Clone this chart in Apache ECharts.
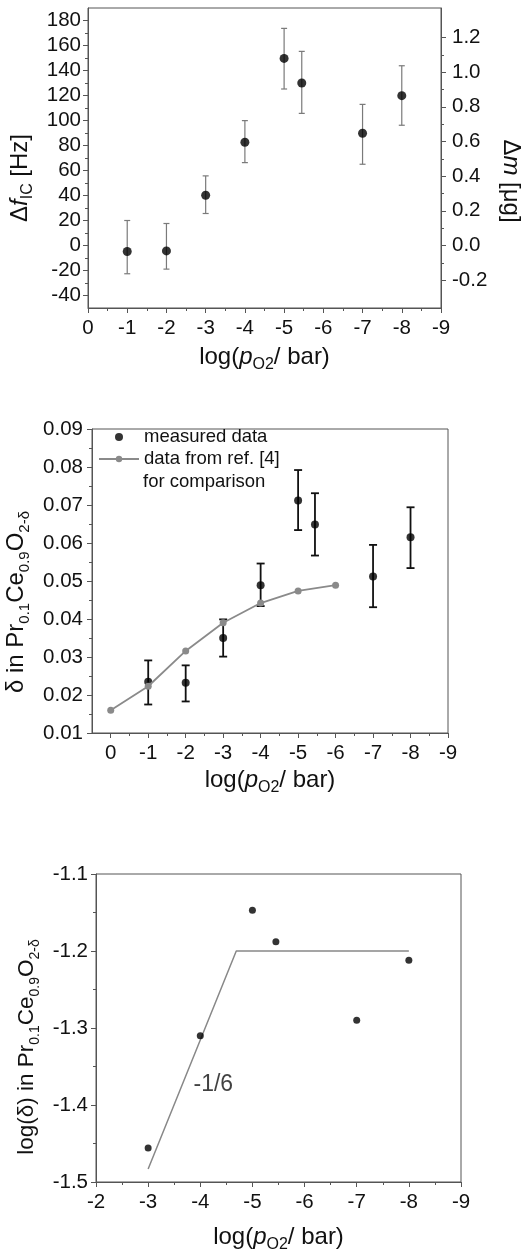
<!DOCTYPE html>
<html><head><meta charset="utf-8">
<script src="https://cdn.jsdelivr.net/npm/echarts@6/dist/echarts.min.js"></script>
<style>html,body{margin:0;padding:0;background:#fff}#c{width:528px;height:1249px}</style>
</head><body><div id="c"></div>
<script>
// ---------- Panel 1: frequency shift / mass change ----------
const p1X = [-1, -2, -3, -4, -5, -5.45, -7, -8];
const p1Freq = [-4.8, -4.3, 40.2, 82.6, 149.7, 130.0, 89.8, 119.9];
const p1ErrLow = [-22.6, -18.9, 25.6, 66.3, 125.2, 105.7, 65.0, 96.2];
const p1ErrHigh = [20.0, 17.6, 55.7, 99.9, 173.7, 155.3, 112.9, 143.8];
const p1FreqTicks = [-40, -20, 0, 20, 40, 60, 80, 100, 120, 140, 160, 180];
const p1MassTicks = [-0.2, 0.0, 0.2, 0.4, 0.6, 0.8, 1.0, 1.2];
const hzPerUg = 138.7;
const p1XTicks = [0, -1, -2, -3, -4, -5, -6, -7, -8, -9];

// ---------- Panel 2: delta vs log pO2 ----------
const p2X = [-1, -2, -3, -4, -5, -5.45, -7, -8];
const p2Delta = [0.0235, 0.0232, 0.0350, 0.0489, 0.0712, 0.0649, 0.0512, 0.0615];
const p2ErrLow = [0.0175, 0.0183, 0.0301, 0.0434, 0.0634, 0.0567, 0.0431, 0.0534];
const p2ErrHigh = [0.0291, 0.0278, 0.0399, 0.0546, 0.0792, 0.0731, 0.0595, 0.0694];
const refX = [0, -1, -2, -3, -4, -5, -6];
const refDelta = [0.0160, 0.0223, 0.0316, 0.0390, 0.0442, 0.0474, 0.0489];
const p2YTicks = [0.01, 0.02, 0.03, 0.04, 0.05, 0.06, 0.07, 0.08, 0.09];
const p2XTicks = [0, -1, -2, -3, -4, -5, -6, -7, -8, -9];

// ---------- Panel 3: log(delta) vs log pO2 ----------
const p3X = [-3, -4, -5, -5.45, -7, -8];
const p3LogDelta = [-1.456, -1.310, -1.147, -1.188, -1.290, -1.212];
const fitX = [-3, -4.69, -8];
const fitY = [-1.483, -1.200, -1.200];
const slopeLabel = { x: -4.25, y: -1.374, text: '-1/6' };
const p3YTicks = [-1.5, -1.4, -1.3, -1.2, -1.1];
const p3XTicks = [-2, -3, -4, -5, -6, -7, -8, -9];

// ---------- helpers ----------
const FF = '"Liberation Sans", Arial, sans-serif';
const AX = '#555';
const TXT = '#111';
const TICK_FS = 20.5;
const mid = arr => arr.slice(1).map((v, i) => +((v + arr[i]) / 2).toFixed(6));

function rich(main, sub, lh) {
  return {
    a: { fontSize: main, fontFamily: FF, color: TXT, lineHeight: lh },
    i: { fontSize: main, fontFamily: FF, color: TXT, fontStyle: 'italic', lineHeight: lh },
    s: { fontSize: sub, fontFamily: FF, color: TXT, lineHeight: sub, verticalAlign: 'bottom' }
  };
}

function mainAxis(o) {
  return Object.assign({
    type: 'value', gridIndex: o.grid, min: o.min, max: o.max, inverse: !!o.inverse,
    position: o.position, splitLine: { show: false },
    axisLine: { show: true, onZero: false, lineStyle: { color: AX, width: 1 } },
    axisTick: { show: true, length: 5, lineStyle: { color: AX }, customValues: o.ticks },
    axisLabel: { show: true, customValues: o.ticks, margin: o.margin, color: TXT, fontSize: TICK_FS, fontFamily: FF,
      formatter: o.fmt },
    minorTick: { show: false }
  }, o.extra || {});
}
function minorAxis(o) {
  return {
    type: 'value', gridIndex: o.grid, min: o.min, max: o.max, inverse: !!o.inverse,
    position: o.position, splitLine: { show: false },
    axisLine: { show: false, onZero: false },
    axisTick: { show: true, length: 3, lineStyle: { color: AX }, customValues: o.ticks },
    axisLabel: { show: false }
  };
}
function errSeries(name, xi, yi, xs, lo, hi, color, width, cap) {
  return {
    type: 'custom', name: name, xAxisIndex: xi, yAxisIndex: yi, z: 2, silent: true,
    data: xs.map((x, k) => [x, lo[k], hi[k]]),
    encode: { x: 0, y: [1, 2] },
    renderItem: function (params, api) {
      const x = api.value(0);
      const t = api.coord([x, api.value(2)]);
      const b = api.coord([x, api.value(1)]);
      const st = { stroke: color, lineWidth: width };
      return { type: 'group', children: [
        { type: 'line', shape: { x1: t[0], y1: t[1], x2: b[0], y2: b[1] }, style: st },
        { type: 'line', shape: { x1: t[0] - cap, y1: t[1], x2: t[0] + cap, y2: t[1] }, style: st },
        { type: 'line', shape: { x1: b[0] - cap, y1: b[1], x2: b[0] + cap, y2: b[1] }, style: st }
      ] };
    }
  };
}

const g1 = { left: 88, top: 8, width: 353, height: 300 };
const g2 = { left: 92, top: 429, width: 356, height: 304 };
const g3 = { left: 96, top: 874, width: 365, height: 308 };
const gridStyle = { show: true, borderColor: AX, borderWidth: 1, backgroundColor: 'transparent',
  containLabel: false, outerBoundsMode: 'none' };

const fmt1 = v => String(Math.round(v));
const fmtMass = v => (v / hzPerUg).toFixed(1);
const fmt2 = v => v.toFixed(2);
const fmt3 = v => v.toFixed(1);
const fmtX = v => String(Math.round(v));

const xTitle = (main, sub, lh) => ({
  name: '{a|log(}{i|p}{s|O2}{a|/ bar)}', nameLocation: 'middle',
  nameTextStyle: { rich: rich(main, sub, lh) }
});

const option = {
  animation: false,
  backgroundColor: '#fff',
  grid: [Object.assign({}, g1, gridStyle), Object.assign({}, g2, gridStyle), Object.assign({}, g3, gridStyle)],
  legend: {
    data: ['measured data', 'data from ref. [4]'],
    left: 98, top: 427, orient: 'vertical', itemGap: 2, itemWidth: 40, itemHeight: 8, padding: 0,
    textStyle: { fontSize: 18.5, fontFamily: FF, color: TXT, lineHeight: 20 },
    selectedMode: false
  },
  graphic: [
    { type: 'text', left: 143, top: 472, style: { text: 'for comparison', fontSize: 18.5, fontFamily: FF, fill: TXT } }
  ],
  xAxis: [
    mainAxis({ grid: 0, min: -9, max: 0, inverse: true, position: 'bottom', ticks: p1XTicks, margin: 10, fmt: fmtX,
      extra: Object.assign(xTitle(24, 16, 32), { nameGap: 33 }) }),
    minorAxis({ grid: 0, min: -9, max: 0, inverse: true, position: 'bottom', ticks: mid(p1XTicks) }),
    mainAxis({ grid: 1, min: -9, max: 0.5, inverse: true, position: 'bottom', ticks: p2XTicks, margin: 10, fmt: fmtX,
      extra: Object.assign(xTitle(24, 16, 32), { nameGap: 31 }) }),
    minorAxis({ grid: 1, min: -9, max: 0.5, inverse: true, position: 'bottom', ticks: mid(p2XTicks) }),
    mainAxis({ grid: 2, min: -9, max: -2, inverse: true, position: 'bottom', ticks: p3XTicks, margin: 10, fmt: fmtX,
      extra: Object.assign(xTitle(24, 16, 32), { nameGap: 39 }) }),
    minorAxis({ grid: 2, min: -9, max: -2, inverse: true, position: 'bottom', ticks: mid(p3XTicks) })
  ],
  yAxis: [
    mainAxis({ grid: 0, min: -50, max: 190, position: 'left', ticks: p1FreqTicks, margin: 7, fmt: fmt1,
      extra: { name: '{a|Δ}{i|f}{s|IC}{a| [Hz]}', nameLocation: 'middle', nameGap: 40,
        nameTextStyle: { rich: rich(24, 16, 32), padding: [0, 40, 0, 0] } } }),
    minorAxis({ grid: 0, min: -50, max: 190, position: 'left', ticks: mid(p1FreqTicks) }),
    mainAxis({ grid: 0, min: -50, max: 190, position: 'right', ticks: p1MassTicks.map(m => +(m * hzPerUg).toFixed(4)), margin: 11, fmt: fmtMass,
      extra: { name: '{a|Δ}{i|m}{a| [μg]}', nameLocation: 'middle', nameGap: 54, nameRotate: -90,
        nameTextStyle: { rich: rich(24, 16, 30), padding: [0, 0, 0, 46] } } }),
    minorAxis({ grid: 0, min: -50, max: 190, position: 'right', ticks: mid(p1MassTicks).map(m => +(m * hzPerUg).toFixed(4)) }),
    mainAxis({ grid: 1, min: 0.01, max: 0.09, position: 'left', ticks: p2YTicks, margin: 9, fmt: fmt2,
      extra: { name: '{a|δ in Pr}{s|0.1}{a|Ce}{s|0.9}{a|O}{s|2-δ}', nameLocation: 'middle', nameGap: 56,
        nameTextStyle: { rich: rich(24, 15, 32), padding: [0, 42, 0, 0] } } }),
    minorAxis({ grid: 1, min: 0.01, max: 0.09, position: 'left', ticks: mid(p2YTicks) }),
    mainAxis({ grid: 2, min: -1.5, max: -1.1, position: 'left', ticks: p3YTicks, margin: 8, fmt: fmt3,
      extra: { name: '{a|log(δ) in Pr}{s|0.1}{a|Ce}{s|0.9}{a|O}{s|2-δ}', nameLocation: 'middle', nameGap: 53,
        nameTextStyle: { rich: rich(22.5, 14, 30), padding: [0, 38, 0, 0] } } }),
    minorAxis({ grid: 2, min: -1.5, max: -1.1, position: 'left', ticks: mid(p3YTicks) })
  ],
  series: [
    errSeries('err1', 0, 0, p1X, p1ErrLow, p1ErrHigh, '#7a7a7a', 1.2, 3),
    { type: 'scatter', name: 'p1', xAxisIndex: 0, yAxisIndex: 0, z: 3, symbol: 'circle', symbolSize: 9,
      itemStyle: { color: '#000' }, data: p1X.map((x, k) => [x, p1Freq[k]]) },

    errSeries('err2', 2, 4, p2X, p2ErrLow, p2ErrHigh, '#111', 1.8, 4),
    { type: 'scatter', name: 'measured data', xAxisIndex: 2, yAxisIndex: 4, z: 3, symbol: 'circle', symbolSize: 8,
      itemStyle: { color: '#000' }, data: p2X.map((x, k) => [x, p2Delta[k]]) },
    { type: 'line', name: 'data from ref. [4]', xAxisIndex: 2, yAxisIndex: 4, z: 4, symbol: 'circle', symbolSize: 7,
      showSymbol: true, lineStyle: { color: '#8a8a8a', width: 1.8 }, itemStyle: { color: '#8a8a8a' },
      data: refX.map((x, k) => [x, refDelta[k]]) },

    { type: 'line', name: 'fit', xAxisIndex: 4, yAxisIndex: 6, z: 2, symbol: 'none',
      lineStyle: { color: '#888', width: 1.5 }, data: fitX.map((x, k) => [x, fitY[k]]) },
    { type: 'scatter', name: 'p3', xAxisIndex: 4, yAxisIndex: 6, z: 3, symbol: 'circle', symbolSize: 7,
      itemStyle: { color: '#000' }, data: p3X.map((x, k) => [x, p3LogDelta[k]]) },
    { type: 'scatter', name: 'slope', xAxisIndex: 4, yAxisIndex: 6, z: 3, symbolSize: 0, silent: true,
      data: [[slopeLabel.x, slopeLabel.y]],
      label: { show: true, position: 'inside', formatter: slopeLabel.text, fontSize: 23, fontFamily: FF, color: TXT } }
  ]
};
const chart = echarts.init(document.getElementById('c'), null, { renderer: 'canvas' });
chart.setOption(option);
</script>
</body></html>
